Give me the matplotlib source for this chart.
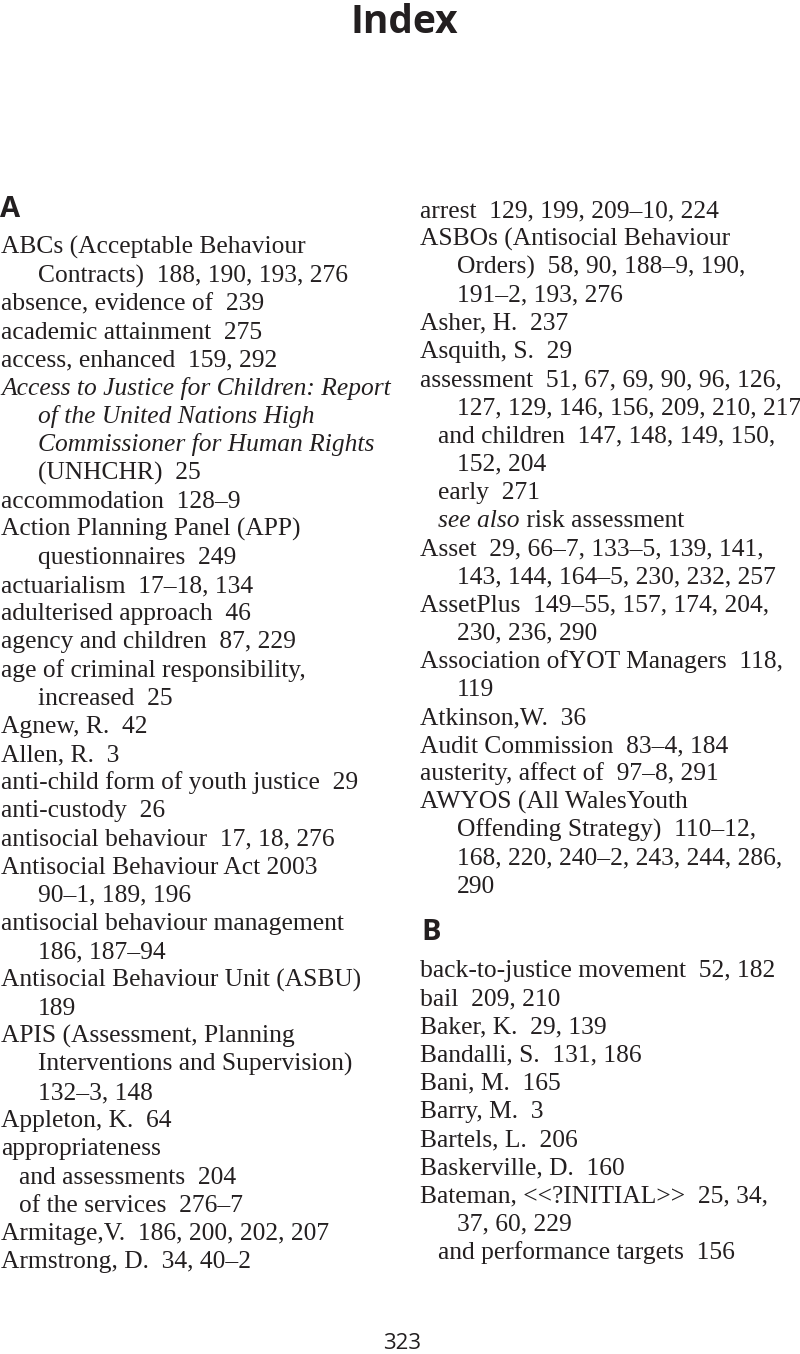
import matplotlib
matplotlib.use("Agg")
import matplotlib.pyplot as plt

# index entries: (indent level, text); *...* marks italic runs
# level 0 = main entry, 1 = sub-entry, 2 = turnover line
left_lines = [
    (0, "ABCs (Acceptable Behaviour"),
    (2, "Contracts)  188, 190, 193, 276"),
    (0, "absence, evidence of  239"),
    (0, "academic attainment  275"),
    (0, "access, enhanced  159, 292"),
    (0, "*Access to Justice for Children: Report*"),
    (2, "*of the United Nations High*"),
    (2, "*Commissioner for Human Rights*"),
    (2, "(UNHCHR)  25"),
    (0, "accommodation  128–9"),
    (0, "Action Planning Panel (APP)"),
    (2, "questionnaires  249"),
    (0, "actuarialism  17–18, 134"),
    (0, "adulterised approach  46"),
    (0, "agency and children  87, 229"),
    (0, "age of criminal responsibility,"),
    (2, "increased  25"),
    (0, "Agnew, R.  42"),
    (0, "Allen, R.  3"),
    (0, "anti-child form of youth justice  29"),
    (0, "anti-custody  26"),
    (0, "antisocial behaviour  17, 18, 276"),
    (0, "Antisocial Behaviour Act 2003"),
    (2, "90–1, 189, 196"),
    (0, "antisocial behaviour management"),
    (2, "186, 187–94"),
    (0, "Antisocial Behaviour Unit (ASBU)"),
    (2, "189"),
    (0, "APIS (Assessment, Planning"),
    (2, "Interventions and Supervision)"),
    (2, "132–3, 148"),
    (0, "Appleton, K.  64"),
    (0, "appropriateness"),
    (1, "and assessments  204"),
    (1, "of the services  276–7"),
    (0, "Armitage,V.  186, 200, 202, 207"),
    (0, "Armstrong, D.  34, 40–2"),
]

right_a_lines = [
    (0, "arrest  129, 199, 209–10, 224"),
    (0, "ASBOs (Antisocial Behaviour"),
    (2, "Orders)  58, 90, 188–9, 190,"),
    (2, "191–2, 193, 276"),
    (0, "Asher, H.  237"),
    (0, "Asquith, S.  29"),
    (0, "assessment  51, 67, 69, 90, 96, 126,"),
    (2, "127, 129, 146, 156, 209, 210, 217"),
    (1, "and children  147, 148, 149, 150,"),
    (2, "152, 204"),
    (1, "early  271"),
    (1, "*see also* risk assessment"),
    (0, "Asset  29, 66–7, 133–5, 139, 141,"),
    (2, "143, 144, 164–5, 230, 232, 257"),
    (0, "AssetPlus  149–55, 157, 174, 204,"),
    (2, "230, 236, 290"),
    (0, "Association ofYOT Managers  118,"),
    (2, "119"),
    (0, "Atkinson,W.  36"),
    (0, "Audit Commission  83–4, 184"),
    (0, "austerity, affect of  97–8, 291"),
    (0, "AWYOS (All WalesYouth"),
    (2, "Offending Strategy)  110–12,"),
    (2, "168, 220, 240–2, 243, 244, 286,"),
    (2, "290"),
]

right_b_lines = [
    (0, "back-to-justice movement  52, 182"),
    (0, "bail  209, 210"),
    (0, "Baker, K.  29, 139"),
    (0, "Bandalli, S.  131, 186"),
    (0, "Bani, M.  165"),
    (0, "Barry, M.  3"),
    (0, "Bartels, L.  206"),
    (0, "Baskerville, D.  160"),
    (0, "Bateman, <<?INITIAL>>  25, 34,"),
    (2, "37, 60, 229"),
    (1, "and performance targets  156"),
]

page_title = "Index"
page_number = "323"

INK = "#231f20"
SERIF = "Liberation Serif"
SANS = ["Open Sans", "DejaVu Sans"]
BODY_SIZE = 18.4
PITCH = 28.17
INDENTS = {0: 0, 1: 18, 2: 37}

fig = plt.figure(figsize=(8, 13.54), dpi=100)
ax = fig.add_axes([0, 0, 1, 1])
ax.set_xlim(0, 800)
ax.set_ylim(1354, 0)
ax.axis("off")
renderer = fig.canvas.get_renderer()


def draw_line(x, y, text):
    # split on * to alternate roman / italic runs
    parts = text.split("*")
    for i, part in enumerate(parts):
        if not part:
            continue
        t = ax.text(x, y, part, fontsize=BODY_SIZE, family=SERIF, color=INK,
                    style="italic" if i % 2 else "normal", va="baseline")
        x += t.get_window_extent(renderer).width


def draw_column(x0, y0, lines):
    for k, (level, text) in enumerate(lines):
        draw_line(x0 + INDENTS[level], y0 + k * PITCH, text)


def heading(x, y, letter):
    ax.text(x, y, letter, fontsize=21, family=SANS, weight="bold",
            color=INK, va="baseline")


ax.text(404, 33, page_title, fontsize=28, family=SANS, weight="bold",
        color=INK, ha="center", va="baseline")

heading(0, 217, "A")
draw_column(1, 254, left_lines)
draw_column(420, 217, right_a_lines)
heading(421, 940, "B")
draw_column(420, 977, right_b_lines)

ax.text(402, 1349, page_number, fontsize=16, family=SANS, color=INK,
        ha="center", va="baseline")

fig.savefig("out.png", dpi=100)
